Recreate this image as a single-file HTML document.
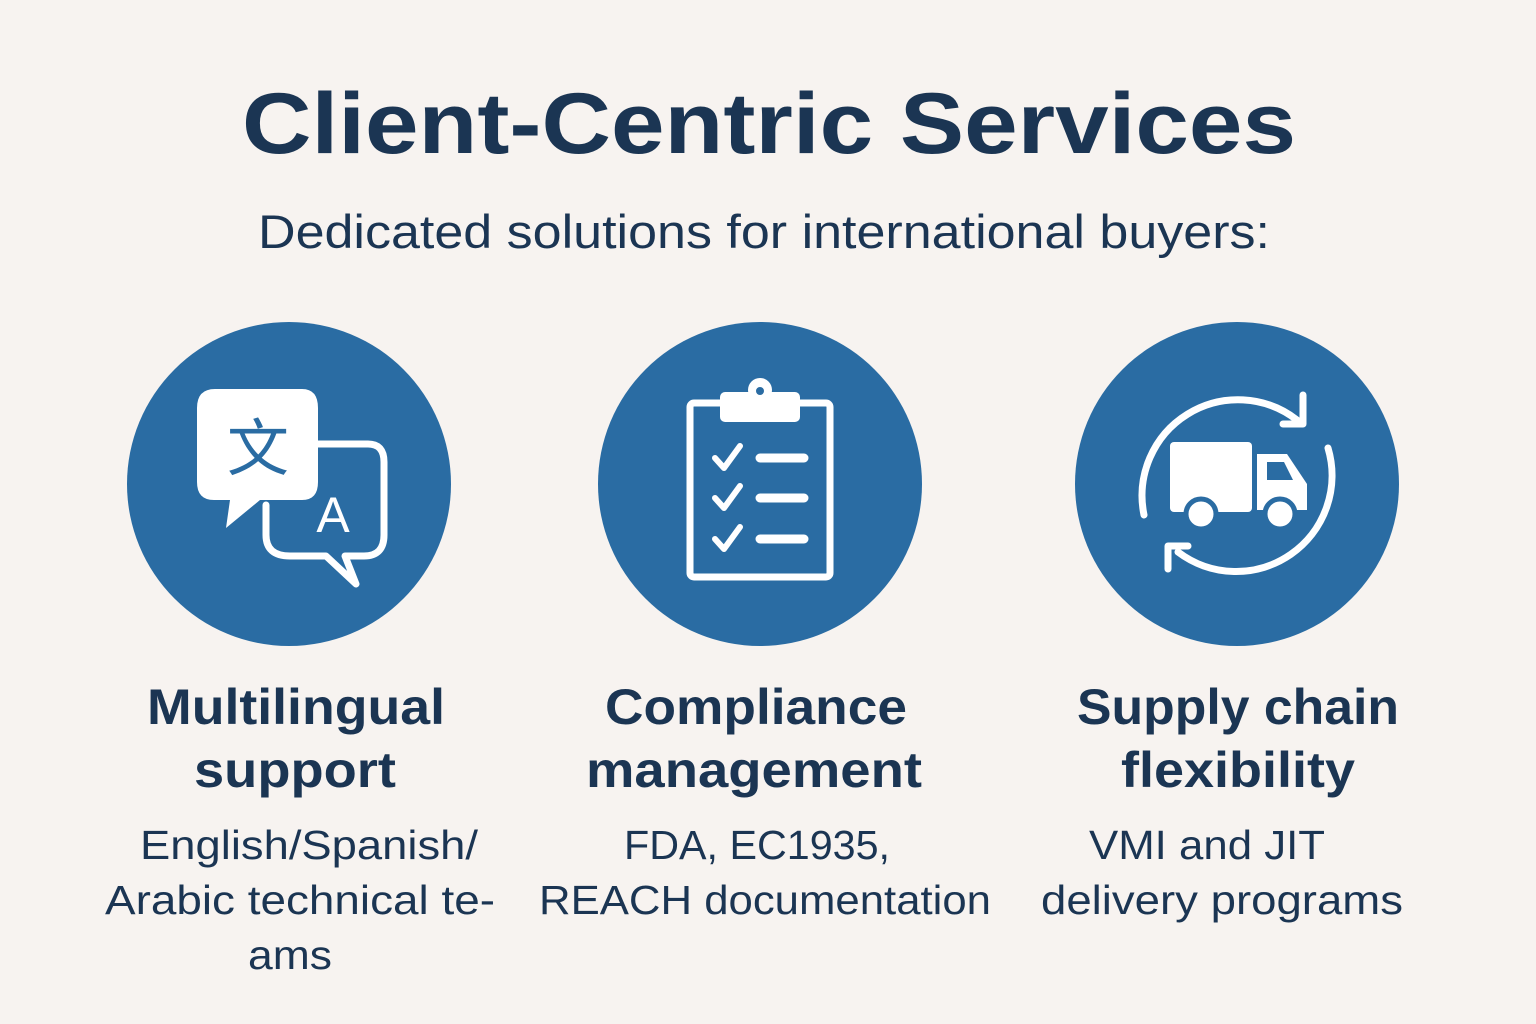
<!DOCTYPE html>
<html><head><meta charset="utf-8"><style>
html,body{margin:0;padding:0;background:#f7f3f0;}
svg{display:block}
text{font-family:"Liberation Sans","DejaVu Sans",sans-serif;fill:#1b3553;text-anchor:middle}
</style></head><body>
<svg width="1536" height="1024" viewBox="0 0 1536 1024">
<rect width="1536" height="1024" fill="#f7f3f0"/>
<text x="769" y="153" font-size="86" font-weight="bold" textLength="1054" lengthAdjust="spacingAndGlyphs">Client-Centric Services</text>
<text x="764" y="248" font-size="47" textLength="1012" lengthAdjust="spacingAndGlyphs">Dedicated solutions for international buyers:</text>
<g fill="#2a6ca3">
<circle cx="289" cy="484" r="162"/><circle cx="760" cy="484" r="162"/><circle cx="1237" cy="484" r="162"/>
</g>
<!-- translate icon -->
<g fill="none" stroke="#fff" stroke-width="7" stroke-linecap="round" stroke-linejoin="round">
<path d="M290 444 L368 444 Q384 444 384 462 L384 535 Q384 556 364 556 L345 556 L356 584 L326 556 L290 556 Q266 556 266 535 L266 505"/>
</g>
<path d="M215 389 L302 389 Q318 389 318 408 L318 482 Q318 500 302 500 L260 500 L226 528 L230 500 L214 500 Q197 500 197 482 L197 408 Q197 389 215 389 Z" fill="#fff"/>
<text x="258" y="470" font-size="62" style="fill:#2a6ca3;font-family:'Noto Sans CJK SC',sans-serif">文</text>
<text x="333" y="532" font-size="50" style="fill:#fff">A</text>
<!-- clipboard -->
<g fill="none" stroke="#fff" stroke-width="7" stroke-linejoin="round" stroke-linecap="round">
<rect x="690" y="403" width="140" height="174" rx="4"/>
<path d="M715 458 l9 10 l16 -22 M715 498 l9 10 l16 -22 M715 539 l9 10 l16 -22" stroke-width="6"/>
<path d="M760 458 h44 M760 498 h44 M760 539 h44" stroke-width="9"/>
</g>
<rect x="720" y="392" width="80" height="30" rx="5" fill="#fff"/>
<circle cx="760" cy="390" r="12" fill="#fff"/><circle cx="760" cy="391" r="4" fill="#2a6ca3"/>
<!-- truck cycle -->
<g fill="none" stroke="#fff" stroke-width="7" stroke-linecap="round" stroke-linejoin="round">
<path d="M1144 515 A96 96 0 0 1 1297 420"/>
<path d="M1303 395 L1303 424 L1283 424"/>
<path d="M1328 448 A96 96 0 0 1 1178 552"/>
<path d="M1188 546 L1168 546 L1168 569"/>
</g>
<rect x="1170" y="442" width="82" height="70" rx="4" fill="#fff"/>
<path d="M1257 454 L1287 454 L1307 484 L1307 510 L1257 510 Z" fill="#fff"/>
<path d="M1267 462 L1284 462 L1293 480 L1267 480 Z" fill="#2a6ca3"/>
<circle cx="1201" cy="514" r="15" fill="#fff" stroke="#2a6ca3" stroke-width="5"/>
<circle cx="1280" cy="514" r="15" fill="#fff" stroke="#2a6ca3" stroke-width="5"/>
<!-- titles -->
<g font-size="50" font-weight="bold">
<text x="296" y="724" textLength="298" lengthAdjust="spacingAndGlyphs">Multilingual</text><text x="295" y="787" textLength="202" lengthAdjust="spacingAndGlyphs">support</text>
<text x="756" y="724" textLength="302" lengthAdjust="spacingAndGlyphs">Compliance</text><text x="754" y="787" textLength="336" lengthAdjust="spacingAndGlyphs">management</text>
<text x="1238" y="724" textLength="322" lengthAdjust="spacingAndGlyphs">Supply chain</text><text x="1238" y="787" textLength="234" lengthAdjust="spacingAndGlyphs">flexibility</text>
</g>
<g font-size="41">
<text x="309" y="859" textLength="338" lengthAdjust="spacingAndGlyphs">English/Spanish/</text><text x="300" y="914" textLength="390" lengthAdjust="spacingAndGlyphs">Arabic technical te-</text><text x="290" y="969" textLength="84" lengthAdjust="spacingAndGlyphs">ams</text>
<text x="757" y="859" textLength="266" lengthAdjust="spacingAndGlyphs">FDA, EC1935,</text><text x="765" y="914" textLength="452" lengthAdjust="spacingAndGlyphs">REACH documentation</text>
<text x="1207" y="859" textLength="236" lengthAdjust="spacingAndGlyphs">VMI and JIT</text><text x="1222" y="914" textLength="362" lengthAdjust="spacingAndGlyphs">delivery programs</text>
</g>
</svg>
</body></html>
